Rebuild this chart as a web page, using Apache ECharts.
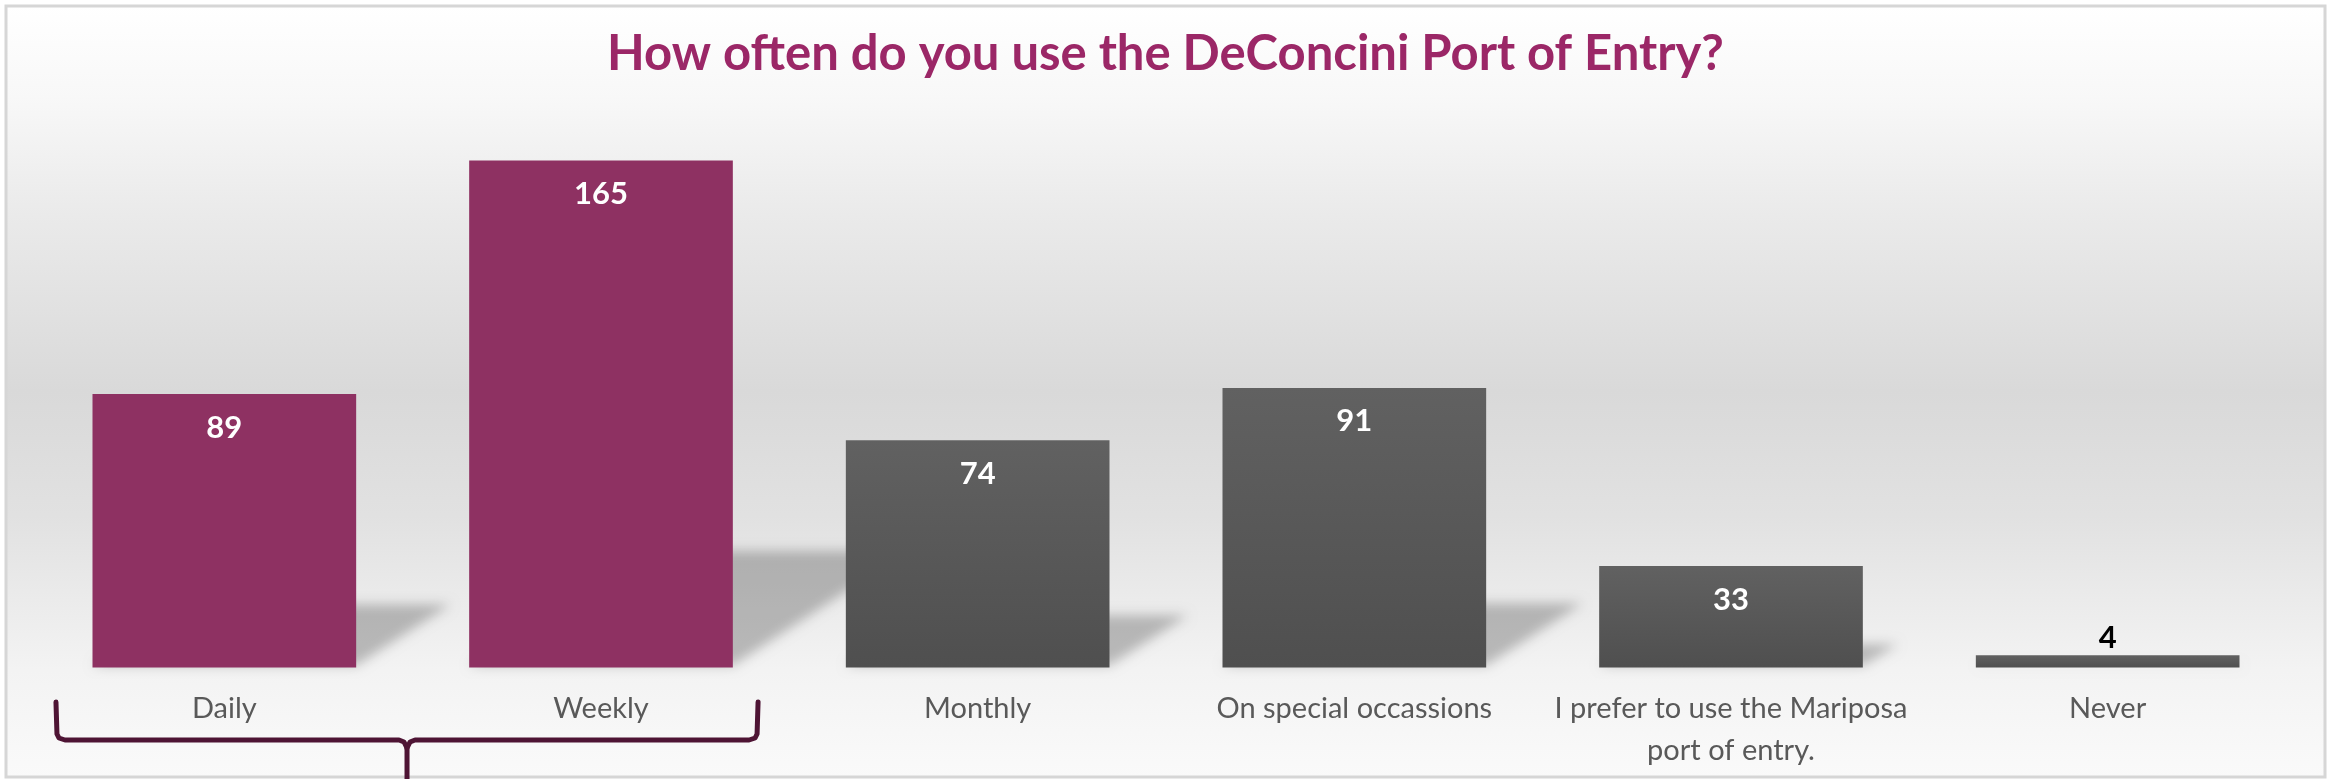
<!DOCTYPE html>
<html>
<head>
<meta charset="utf-8">
<script src="https://cdn.jsdelivr.net/npm/echarts@6/dist/echarts.min.js"></script>
<style>
html,body{margin:0;padding:0;background:#fff;}
#chart{width:2331px;height:779px;}
</style>
</head>
<body>
<div id="chart"></div>
<script>
const titleText = 'How often do you use the DeConcini Port of Entry?';
const categories = ['Daily', 'Weekly', 'Monthly', 'On special occassions', 'I prefer to use the Mariposa\nport of entry.', 'Never'];
const values = [89, 165, 74, 91, 33, 4];
const bracketCategories = ['Daily', 'Weekly'];

const chart = echarts.init(document.getElementById('chart'), null, {renderer: 'canvas'});

const plum = '#8e3162';
const greyGrad = new echarts.graphic.LinearGradient(0, 0, 0, 1, [
  {offset: 0, color: '#616161'}, {offset: 1, color: '#4f4f4f'}
]);

const barData = values.map((v, i) => {
  const inGroup = bracketCategories.indexOf(categories[i]) >= 0;
  const item = {value: v, itemStyle: {color: inGroup ? plum : greyGrad}};
  if (v < 10) {
    item.label = {position: 'top', color: '#000', distance: 2};
  }
  return item;
});

const shadowData = values.map((v, i) => [i, v]);

const bgGrad = new echarts.graphic.LinearGradient(0, 0, 0, 1, [
  {offset: 0, color: '#ffffff'},
  {offset: 0.12, color: '#f8f8f8'},
  {offset: 0.26, color: '#ebebeb'},
  {offset: 0.5, color: '#d9d9d9'},
  {offset: 0.66, color: '#e1e1e1'},
  {offset: 0.78, color: '#ececec'},
  {offset: 0.86, color: '#f3f3f3'},
  {offset: 1, color: '#fafafa'}
]);

const SHIFT = 4000;

const option = {
  backgroundColor: '#ffffff',
  animation: false,
  title: {
    text: titleText,
    left: 'center',
    top: 25,
    textStyle: {
      color: '#9b2767',
      fontFamily: 'Lato',
      fontWeight: 'bold',
      fontSize: 49
    }
  },
  grid: {left: 36, right: 35, top: 114.5, bottom: 111.5, containLabel: false},
  xAxis: {
    type: 'category',
    data: categories,
    axisLine: {show: false},
    axisTick: {show: false},
    axisLabel: {
      color: '#595959',
      fontFamily: 'Lato',
      fontSize: 29,
      lineHeight: 42,
      margin: 20,
      interval: 0
    }
  },
  yAxis: {type: 'value', min: 0, max: 180, show: false},
  series: [{
    type: 'custom',
    z: 1,
    silent: true,
    clip: false,
    data: shadowData,
    renderItem: function (params, api) {
      const idx = api.value(0);
      const val = api.value(1);
      const base = api.coord([idx, 0]);
      const top = api.coord([idx, val]);
      const bw = api.size([1, 0])[0] * 0.7;
      const h = (base[1] - top[1]) * 0.23;
      const dx = h * 1.5;
      return {
        type: 'polygon',
        shape: {points: [
          [base[0] - bw / 2 - SHIFT, base[1] - 2],
          [base[0] + bw / 2 - SHIFT, base[1] - 2],
          [base[0] + bw / 2 + dx - SHIFT, base[1] - h],
          [base[0] - bw / 2 + dx - SHIFT, base[1] - h]
        ]},
        style: {
          fill: '#000',
          shadowBlur: 12,
          shadowOffsetX: SHIFT,
          shadowColor: 'rgba(0,0,0,0.24)'
        }
      };
    }
  }, {
    type: 'bar',
    z: 2,
    data: barData,
    barCategoryGap: '30%',
    label: {
      show: true,
      position: 'insideTop',
      distance: 18,
      color: '#ffffff',
      fontFamily: 'Lato',
      fontWeight: 'bold',
      fontSize: 31
    }
  }]
};

chart.setOption(option);

// background frame and bracket under the grouped categories
const xs = bracketCategories.map(c => chart.convertToPixel({xAxisIndex: 0}, c));
const catW = xs.length > 1 ? (xs[1] - xs[0]) : 376;
const L = xs[0] - catW * 0.447;
const R = xs[xs.length - 1] + catW * 0.417;
const C = (L + R) / 2;
const yTop = 702, yLine = 740;
const leftPts = [[L, yTop], [L + 1, yLine - 6], [L + 3, yLine - 2], [L + 9, yLine], [C - 8, yLine], [C - 3, yLine + 2], [C, yLine + 8], [C, 782]];
const rightPts = [[C, yLine + 8], [C + 3, yLine + 2], [C + 8, yLine], [R - 9, yLine], [R - 3, yLine - 2], [R - 1, yLine - 6], [R, yTop]];
chart.setOption({
  graphic: [{
    type: 'rect',
    z: -10,
    silent: true,
    shape: {x: 6, y: 6, width: 2319, height: 771},
    style: {fill: bgGrad, stroke: '#d6d6d6', lineWidth: 3}
  }, {
    type: 'polyline',
    z: 10,
    silent: true,
    shape: {points: leftPts},
    style: {fill: null, stroke: '#4e1434', lineWidth: 5, lineCap: 'round', lineJoin: 'round'}
  }, {
    type: 'polyline',
    z: 10,
    silent: true,
    shape: {points: rightPts},
    style: {fill: null, stroke: '#4e1434', lineWidth: 5, lineCap: 'round', lineJoin: 'round'}
  }]
});
</script>
</body>
</html>
